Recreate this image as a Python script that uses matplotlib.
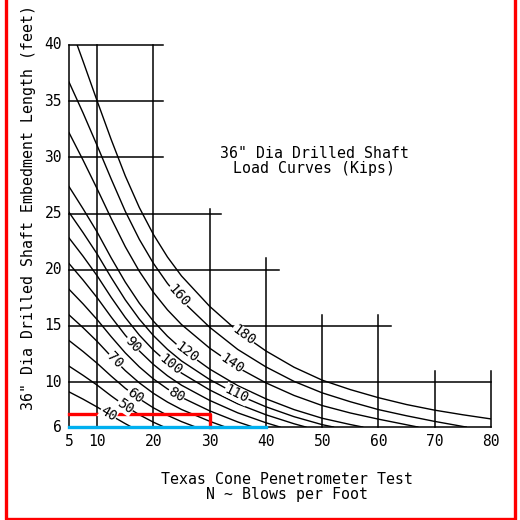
import matplotlib.pyplot as plt
import numpy as np

# load curves (kips): blow count N and embedment length L (ft)
loads = [40, 50, 60, 70, 80, 90, 100, 110, 120, 140, 160, 180]
n_grid = [5, 7.5, 10, 12.5, 15, 17.5, 20, 22.5, 25, 30, 35, 40, 45, 50, 55, 60, 65, 70, 75, 80]
curve_l = {
    180: [42.0, 38.55, 35.02, 31.58, 28.35, 25.53, 23.14, 21.13, 19.44, 16.74, 14.52, 12.77,
          11.32, 10.17, 9.33, 8.61, 8.0, 7.5, 7.09, 6.72],
    160: [36.7, 33.95, 31.05, 28.07, 25.2, 22.7, 20.57, 18.78, 17.28, 14.88, 12.9, 11.35,
          10.06, 9.04, 8.25, 7.55, 7.0, 6.5, 6.05],
    140: [32.2, 29.75, 27.2, 24.56, 22.05, 19.86, 17.99, 16.43, 15.12, 13.02, 11.29, 9.93,
          8.81, 7.91, 7.25, 6.7, 6.2],
    120: [27.4, 25.42, 23.35, 21.05, 18.9, 17.02, 15.42, 14.08, 12.96, 11.16, 9.68, 8.51,
          7.55, 6.78, 6.22],
    110: [25.11, 23.3, 21.4, 19.3, 17.32, 15.6, 14.14, 12.91, 11.88, 10.23, 8.87, 7.8,
          6.92, 6.21],
    100: [22.83, 21.2, 19.46, 17.54, 15.75, 14.18, 12.85, 11.74, 10.8, 9.3, 8.06, 7.09, 6.29],
    90: [20.55, 19.08, 17.51, 15.79, 14.17, 12.77, 11.57, 10.56, 9.72, 8.37, 7.26, 6.38],
    80: [18.26, 16.96, 15.56, 14.04, 12.6, 11.35, 10.28, 9.39, 8.64, 7.44, 6.45],
    70: [15.98, 14.84, 13.62, 12.28, 11.02, 9.93, 9.0, 8.22, 7.56, 6.51],
    60: [13.7, 12.72, 11.67, 10.53, 9.45, 8.51, 7.71, 7.04, 6.48],
    50: [11.42, 10.6, 9.73, 8.77, 7.87, 7.09, 6.43],
    40: [9.13, 8.48, 7.78, 7.02, 6.3],
}
# blow count where each curve meets the 6 ft line
end_n = {180: None, 160: 75.6, 140: 67.0, 120: 57.2, 110: 52.0, 100: 47.1, 90: 42.5,
         80: 37.7, 70: 32.8, 60: 27.5, 50: 21.9, 40: 16.1}
# where each load value is written on its curve
label_n = {40: 12.0, 50: 15.0, 60: 16.7, 70: 13.2, 80: 24.1, 90: 16.4, 100: 23.0,
           110: 34.8, 120: 25.9, 140: 33.9, 160: 24.4, 180: 36.0}

# stepped grid: (value, extent) pairs
h_lines = [(40, 21.7), (35, 21.7), (30, 21.7), (25, 32), (20, 42.3), (15, 62.3), (10, 80)]
v_lines = [(5, 40), (10, 40), (20, 40), (30, 25.4), (40, 21), (50, 16), (60, 16), (70, 11), (80, 11)]
x_ticks = [5, 10, 20, 30, 40, 50, 60, 70, 80]
y_ticks = [6, 10, 15, 20, 25, 30, 35, 40]

plt.rcParams['font.family'] = ['DejaVu Sans Mono']

fig = plt.figure(figsize=(5.2, 5.2), dpi=100)
ax = fig.add_axes([0.1327, 0.1788, 0.9442 - 0.1327, 0.9135 - 0.1788])
ax.set_xlim(5, 80)
ax.set_ylim(6, 40)
ax.axis('off')

for y, xe in h_lines:
    ax.plot([5, xe], [y, y], color='black', lw=1.1, clip_on=False)
ax.plot([5, 80], [6, 6], color='black', lw=1.1, clip_on=False)
for x, ye in v_lines:
    ax.plot([x, x], [6, ye], color='black', lw=1.1, clip_on=False)

for q in loads:
    l = list(curve_l[q])
    n = n_grid[:len(l)]
    if end_n[q] is not None:
        n = n + [end_n[q]]
        l = l + [6]
    n = np.array(n)
    l = np.array(l)
    ax.plot(n, l, color='black', lw=1.0)
    ln = label_n[q]
    ll = np.interp(ln, n, l)
    # slope in display space for text rotation
    p1 = ax.transData.transform((ln - 1.5, np.interp(ln - 1.5, n, l)))
    p2 = ax.transData.transform((ln + 1.5, np.interp(ln + 1.5, n, l)))
    ang = np.degrees(np.arctan2(p2[1] - p1[1], p2[0] - p1[0]))
    ax.text(ln, ll, str(q), rotation=ang, rotation_mode='anchor', ha='center', va='center',
            fontsize=10, bbox=dict(facecolor='white', edgecolor='none', pad=0.3))

# highlighted case
ax.plot([5, 30, 30], [7.2, 7.2, 6], color='#ff0000', lw=2.4, clip_on=False)
ax.plot([5, 40], [6, 6], color='#00b0f0', lw=2.4, clip_on=False)

for x in x_ticks:
    ax.text(x, 5.4, str(x), ha='center', va='top', fontsize=10.5)
for y in y_ticks:
    ax.text(3.75, y, str(y), ha='right', va='center', fontsize=10.5)

ax.text(48.6, 29.7, '36" Dia Drilled Shaft\nLoad Curves (Kips)', ha='center', va='center',
        multialignment='center', fontsize=10.75, linespacing=1.0)
fig.text(0.054, 0.601, '36" Dia Drilled Shaft Embedment Length (feet)', rotation=90,
         ha='center', va='center', fontsize=10.75)
fig.text(0.551, 0.0635, 'Texas Cone Penetrometer Test\nN ~ Blows per Foot', ha='center',
         va='center', multialignment='center', fontsize=10.75, linespacing=1.0)

# red page frame
fig.add_artist(plt.Line2D([0.0106, 0.0106, 0.9904, 0.9904], [1.01, 0.0025, 0.0025, 1.01],
                          color='#ff0000', lw=2.4, transform=fig.transFigure))

fig.savefig('out.png', dpi=100, facecolor='white')
